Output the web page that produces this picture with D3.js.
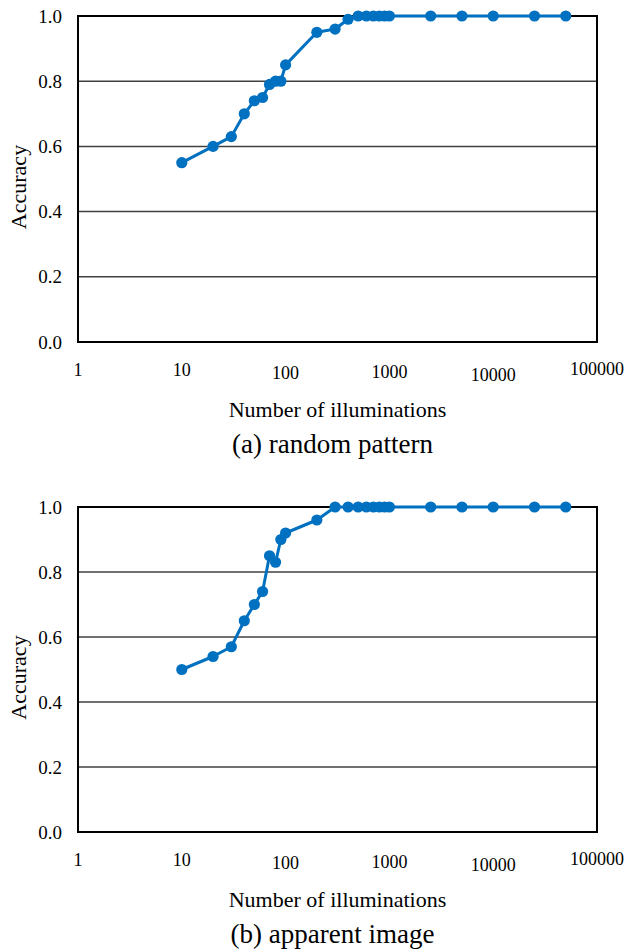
<!DOCTYPE html>
<html>
<head>
<meta charset="utf-8">
<script src="https://cdn.jsdelivr.net/npm/d3@7"></script>
<style>
  body { margin: 0; background: #fff; }
</style>
</head>
<body>
<svg id="chart" width="629" height="952"></svg>
<script>
// number of illuminations (x) shared by both panels
const illuminations = [10, 20, 30, 40, 50, 60, 70, 80, 90, 100, 200, 300, 400, 500, 600, 700, 800, 900, 1000, 2500, 5000, 10000, 25000, 50000];
const accRandom   = [0.55, 0.60, 0.63, 0.70, 0.74, 0.75, 0.79, 0.80, 0.80, 0.85, 0.95, 0.96, 0.99, 1, 1, 1, 1, 1, 1, 1, 1, 1, 1, 1];
const accApparent = [0.50, 0.54, 0.57, 0.65, 0.70, 0.74, 0.85, 0.83, 0.90, 0.92, 0.96, 1, 1, 1, 1, 1, 1, 1, 1, 1, 1, 1, 1, 1];
const xTicks = [1, 10, 100, 1000, 10000, 100000];
const yTicks = [0, 0.2, 0.4, 0.6, 0.8, 1.0];
const captions = ["(a) random pattern", "(b) apparent image"];

const FONT = "'Liberation Serif', 'Times New Roman', 'DejaVu Serif', serif";
const svg = d3.select("#chart").attr("font-family", FONT);
const left = 78, right = 597;
const panels = [
  { top: 16, bottom: 342, values: accRandom, caption: captions[0] },
  { top: 507, bottom: 832, values: accApparent, caption: captions[1] }
];
// small vertical jitter of the x labels seen in the original
const labelShift = [-2, -2, 1, 0, 3, -3];

panels.forEach(p => {
  const x = d3.scaleLog().domain([1, 100000]).range([left, right]);
  const y = d3.scaleLinear().domain([0, 1]).range([p.bottom, p.top]);
  const g = svg.append("g");

  // gridlines
  g.selectAll("line.grid")
    .data(yTicks.filter(d => d > 0 && d < 1))
    .join("line")
    .attr("x1", left).attr("x2", right)
    .attr("y1", d => y(d)).attr("y2", d => y(d))
    .attr("stroke", "#404040").attr("stroke-width", 1.5);

  // frame
  g.append("rect")
    .attr("x", left).attr("y", p.top)
    .attr("width", right - left).attr("height", p.bottom - p.top)
    .attr("fill", "none").attr("stroke", "#000").attr("stroke-width", 2);

  // y tick labels
  g.selectAll("text.ytick")
    .data(yTicks)
    .join("text")
    .attr("x", 62).attr("y", d => y(d))
    .attr("dy", "0.35em")
    .attr("text-anchor", "end")
    .style("font-size", "19px")
    .text(d => d3.format(".1f")(d));

  // x tick labels
  g.selectAll("text.xtick")
    .data(xTicks)
    .join("text")
    .attr("x", d => x(d)).attr("y", (d, i) => p.bottom + 36 + labelShift[i])
    .attr("text-anchor", "middle")
    .style("font-size", "18px")
    .text(d => d);

  // axis titles
  g.append("text")
    .attr("x", (left + right) / 2).attr("y", p.bottom + 75)
    .attr("text-anchor", "middle")
    .style("font-size", "22px")
    .text("Number of illuminations");
  g.append("text")
    .attr("transform", `translate(26,${(p.top + p.bottom) / 2 + 8}) rotate(-90)`)
    .attr("text-anchor", "middle")
    .style("font-size", "22px")
    .text("Accuracy");
  g.append("text")
    .attr("x", (left + right) / 2 - 5).attr("y", p.bottom + 111)
    .attr("text-anchor", "middle")
    .style("font-size", "27px")
    .text(p.caption);

  // series
  const pts = illuminations.map((v, i) => [v, p.values[i]]);
  g.append("path")
    .datum(pts)
    .attr("fill", "none")
    .attr("stroke", "#0070C0")
    .attr("stroke-width", 3)
    .attr("stroke-linejoin", "round")
    .attr("d", d3.line().x(d => x(d[0])).y(d => y(d[1])));
  g.selectAll("circle")
    .data(pts)
    .join("circle")
    .attr("cx", d => x(d[0])).attr("cy", d => y(d[1]))
    .attr("r", 5.6)
    .attr("fill", "#0070C0");
});
</script>
</body>
</html>
